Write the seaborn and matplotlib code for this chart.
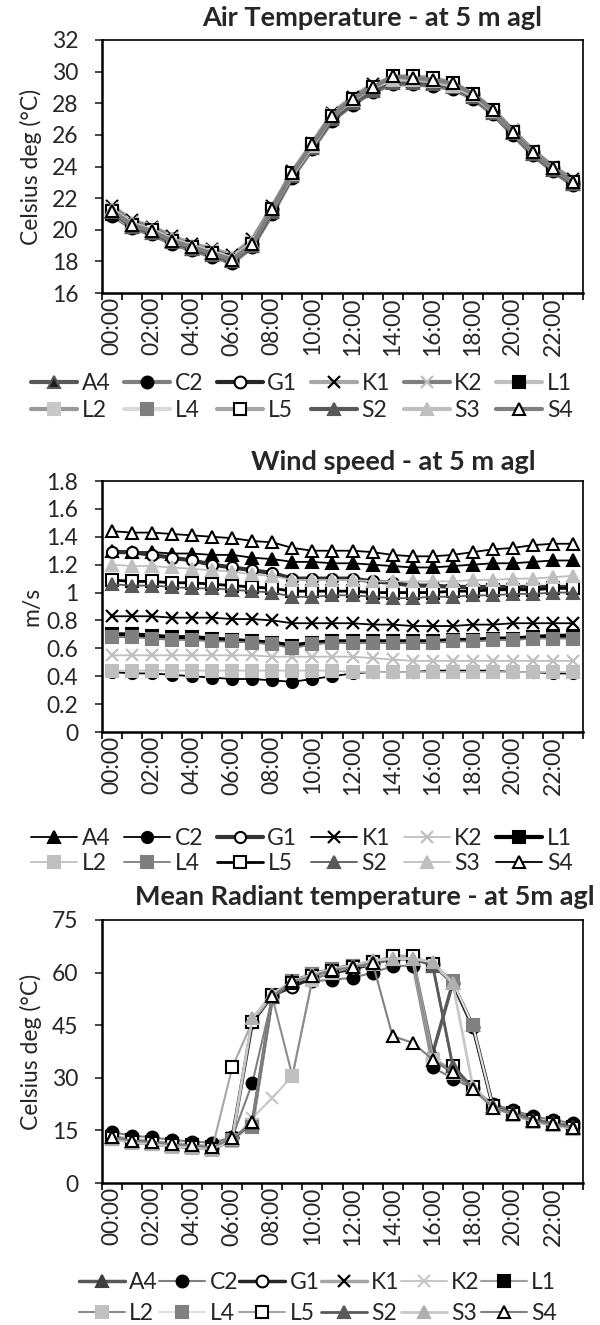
import numpy as np
import pandas as pd
import seaborn as sns
import matplotlib
matplotlib.use("Agg")
import matplotlib.pyplot as plt

# ---- datos ----
horas = ["00:00", "01:00", "02:00", "03:00", "04:00", "05:00", "06:00", "07:00",
         "08:00", "09:00", "10:00", "11:00", "12:00", "13:00", "14:00", "15:00",
         "16:00", "17:00", "18:00", "19:00", "20:00", "21:00", "22:00", "23:00"]
estaciones = ["A4", "C2", "G1", "K1", "K2", "L1", "L2", "L4", "L5", "S2", "S3", "S4"]

# temperatura del aire (C)
ta_A4 = [21.1, 20.2, 19.9, 19.3, 18.8, 18.5, 18.0, 19.0, 21.2, 23.5, 25.3, 27.1, 28.1, 28.9, 29.4, 29.4, 29.3, 29.1, 28.5, 27.5, 26.1, 24.8, 23.8, 22.9]
ta_C2 = [20.9, 20.1, 19.7, 19.1, 18.7, 18.3, 17.9, 18.9, 21.0, 23.3, 25.1, 26.9, 27.9, 28.7, 29.2, 29.2, 29.1, 28.9, 28.3, 27.3, 26.0, 24.7, 23.7, 22.8]
ta_G1 = [21.2, 20.3, 20.0, 19.4, 18.9, 18.5, 18.1, 19.1, 21.3, 23.6, 25.4, 27.2, 28.2, 29.0, 29.6, 29.6, 29.5, 29.2, 28.6, 27.5, 26.2, 24.9, 23.9, 23.0]
ta_K1 = [21.5, 20.6, 20.2, 19.6, 19.1, 18.8, 18.4, 19.4, 21.5, 23.7, 25.5, 27.4, 28.4, 29.2, 29.6, 29.6, 29.5, 29.2, 28.6, 27.6, 26.3, 25.0, 24.0, 23.2]
ta_K2 = [21.4, 20.5, 20.1, 19.5, 19.0, 18.7, 18.3, 19.3, 21.4, 23.6, 25.4, 27.3, 28.3, 29.1, 29.5, 29.5, 29.4, 29.2, 28.6, 27.6, 26.3, 25.0, 24.0, 23.1]
ta_L1 = [21.0, 20.2, 19.8, 19.2, 18.8, 18.4, 18.0, 19.0, 21.1, 23.4, 25.2, 27.0, 28.1, 28.8, 29.4, 29.4, 29.3, 29.0, 28.4, 27.4, 26.1, 24.8, 23.8, 22.9]
ta_L2 = [21.1, 20.3, 19.9, 19.3, 18.8, 18.4, 18.0, 19.0, 21.2, 23.5, 25.3, 27.1, 28.2, 28.9, 29.5, 29.5, 29.4, 29.1, 28.5, 27.5, 26.2, 24.9, 23.9, 23.0]
ta_L4 = [21.2, 20.3, 19.9, 19.3, 18.9, 18.5, 18.1, 19.1, 21.2, 23.5, 25.3, 27.1, 28.2, 28.9, 29.5, 29.5, 29.4, 29.1, 28.5, 27.5, 26.2, 24.9, 23.9, 23.0]
ta_L5 = [21.2, 20.3, 20.0, 19.3, 18.9, 18.5, 18.1, 19.1, 21.3, 23.6, 25.4, 27.2, 28.3, 29.0, 29.7, 29.7, 29.6, 29.3, 28.6, 27.6, 26.2, 24.9, 23.9, 23.0]
ta_S2 = [21.1, 20.2, 19.8, 19.2, 18.8, 18.4, 18.0, 19.0, 21.1, 23.4, 25.2, 27.0, 28.0, 28.8, 29.3, 29.3, 29.2, 29.0, 28.4, 27.4, 26.1, 24.8, 23.8, 22.9]
ta_S3 = [21.3, 20.4, 20.0, 19.4, 19.0, 18.6, 18.2, 19.2, 21.3, 23.5, 25.3, 27.2, 28.2, 29.0, 29.5, 29.5, 29.4, 29.1, 28.5, 27.5, 26.2, 24.9, 23.9, 23.0]
ta_S4 = [21.2, 20.3, 19.9, 19.3, 18.9, 18.5, 18.1, 19.1, 21.3, 23.6, 25.4, 27.2, 28.3, 29.0, 29.7, 29.6, 29.5, 29.25, 28.6, 27.55, 26.2, 24.9, 23.9, 23.0]

# velocidad del viento (m/s)
ws_A4 = [1.30, 1.29, 1.29, 1.28, 1.28, 1.27, 1.27, 1.25, 1.24, 1.22, 1.22, 1.21, 1.21, 1.20, 1.19, 1.18, 1.18, 1.19, 1.20, 1.21, 1.21, 1.22, 1.23, 1.23]
ws_C2 = [0.43, 0.42, 0.42, 0.41, 0.40, 0.39, 0.38, 0.38, 0.37, 0.36, 0.38, 0.40, 0.42, 0.43, 0.43, 0.43, 0.44, 0.44, 0.44, 0.44, 0.43, 0.43, 0.42, 0.42]
ws_G1 = [1.29, 1.29, 1.27, 1.25, 1.23, 1.20, 1.18, 1.16, 1.14, 1.10, 1.10, 1.10, 1.10, 1.08, 1.07, 1.05, 1.05, 1.04, 1.04, 1.04, 1.04, 1.04, 1.04, 1.04]
ws_K1 = [0.83, 0.83, 0.83, 0.82, 0.82, 0.82, 0.81, 0.81, 0.80, 0.78, 0.78, 0.78, 0.78, 0.77, 0.77, 0.76, 0.76, 0.76, 0.77, 0.77, 0.78, 0.78, 0.78, 0.78]
ws_K2 = [0.55, 0.55, 0.55, 0.55, 0.55, 0.55, 0.55, 0.55, 0.54, 0.54, 0.54, 0.54, 0.54, 0.53, 0.52, 0.51, 0.51, 0.51, 0.51, 0.51, 0.51, 0.51, 0.51, 0.51]
ws_L1 = [0.70, 0.70, 0.69, 0.68, 0.68, 0.67, 0.66, 0.65, 0.64, 0.62, 0.64, 0.65, 0.65, 0.65, 0.65, 0.65, 0.65, 0.66, 0.66, 0.67, 0.67, 0.68, 0.69, 0.69]
ws_L2 = [0.44, 0.44, 0.44, 0.44, 0.44, 0.44, 0.44, 0.44, 0.44, 0.44, 0.44, 0.44, 0.43, 0.43, 0.43, 0.43, 0.43, 0.43, 0.43, 0.43, 0.43, 0.43, 0.43, 0.43]
ws_L4 = [0.68, 0.68, 0.67, 0.66, 0.66, 0.65, 0.65, 0.64, 0.63, 0.60, 0.63, 0.64, 0.64, 0.64, 0.64, 0.64, 0.64, 0.65, 0.65, 0.66, 0.66, 0.67, 0.67, 0.67]
ws_L5 = [1.09, 1.08, 1.08, 1.07, 1.07, 1.06, 1.05, 1.04, 1.03, 1.01, 1.01, 1.01, 1.01, 1.00, 1.00, 1.00, 1.00, 1.01, 1.01, 1.02, 1.02, 1.02, 1.03, 1.03]
ws_S2 = [1.06, 1.05, 1.05, 1.04, 1.03, 1.03, 1.02, 1.01, 1.00, 0.97, 0.97, 0.98, 0.98, 0.97, 0.96, 0.96, 0.97, 0.97, 0.98, 0.98, 0.99, 0.99, 1.00, 1.00]
ws_S3 = [1.20, 1.19, 1.19, 1.18, 1.17, 1.16, 1.15, 1.13, 1.12, 1.09, 1.09, 1.09, 1.09, 1.08, 1.08, 1.08, 1.08, 1.08, 1.09, 1.09, 1.10, 1.10, 1.11, 1.12]
ws_S4 = [1.44, 1.43, 1.43, 1.42, 1.41, 1.40, 1.39, 1.37, 1.36, 1.32, 1.30, 1.30, 1.30, 1.29, 1.27, 1.26, 1.26, 1.27, 1.29, 1.31, 1.32, 1.34, 1.35, 1.35]

# temperatura media radiante (C)
mrt_A4 = [13.0, 12.0, 11.5, 10.8, 10.5, 10.0, 12.5, 17.0, 53.0, 57.5, 59.5, 61.0, 62.0, 63.0, 64.0, 64.0, 37.0, 57.0, 45.0, 22.0, 20.0, 18.0, 17.0, 16.0]
mrt_C2 = [14.5, 13.5, 13.0, 12.3, 11.8, 11.5, 13.0, 28.5, 53.0, 57.0, 57.5, 58.0, 58.5, 60.0, 61.8, 62.0, 33.0, 29.8, 27.0, 22.5, 20.8, 19.0, 18.0, 17.0]
mrt_G1 = [13.0, 12.0, 11.5, 10.8, 10.5, 10.0, 13.0, 45.8, 53.5, 56.0, 58.5, 60.0, 61.0, 62.5, 64.0, 64.0, 62.5, 57.0, 44.5, 22.0, 20.0, 18.0, 17.0, 16.0]
mrt_K1 = [13.3, 12.3, 11.8, 11.2, 10.8, 10.3, 12.8, 16.5, 53.0, 57.5, 59.5, 61.0, 62.0, 63.0, 64.0, 64.0, 35.5, 32.0, 27.0, 22.0, 20.0, 18.0, 17.0, 16.0]
mrt_K2 = [12.5, 11.5, 11.0, 10.3, 10.0, 9.5, 12.0, 18.5, 24.3, 30.5, 58.5, 60.5, 61.5, 62.5, 64.0, 64.0, 35.0, 31.5, 27.0, 21.5, 19.5, 17.5, 16.5, 15.5]
mrt_L1 = [13.2, 12.2, 11.7, 11.0, 10.7, 10.2, 12.5, 16.5, 53.0, 57.5, 59.5, 61.0, 62.0, 63.0, 64.0, 64.0, 62.0, 33.0, 27.0, 22.0, 20.0, 18.0, 17.0, 16.0]
mrt_L2 = [12.5, 11.5, 11.0, 10.3, 10.0, 9.5, 12.0, 16.5, 53.0, 30.5, 58.0, 60.0, 61.5, 62.5, 64.0, 64.0, 35.0, 31.5, 27.0, 21.5, 19.5, 17.5, 16.5, 15.5]
mrt_L4 = [12.6, 11.6, 11.2, 10.5, 10.2, 9.7, 12.3, 16.0, 53.0, 57.5, 59.5, 61.0, 62.0, 63.0, 64.5, 64.5, 62.0, 57.5, 45.0, 22.0, 19.8, 17.8, 16.8, 15.8]
mrt_L5 = [12.8, 11.8, 11.3, 10.7, 10.3, 9.8, 33.0, 46.0, 53.5, 57.0, 59.0, 60.5, 61.5, 63.0, 64.8, 64.8, 62.5, 33.5, 27.5, 22.0, 19.8, 17.8, 16.8, 15.8]
mrt_S2 = [13.0, 12.0, 11.5, 10.8, 10.5, 10.0, 12.5, 17.0, 53.0, 57.5, 59.5, 61.0, 62.0, 63.0, 64.0, 64.0, 62.0, 33.5, 27.0, 22.0, 20.0, 18.0, 17.0, 16.0]
mrt_S3 = [12.6, 11.6, 11.2, 10.5, 10.2, 9.7, 12.5, 47.0, 54.0, 57.5, 59.5, 61.0, 62.0, 63.5, 64.0, 64.0, 63.0, 57.0, 27.5, 21.5, 19.5, 17.5, 16.5, 15.5]
mrt_S4 = [13.0, 12.0, 11.7, 11.0, 10.7, 10.2, 12.7, 17.3, 53.3, 57.5, 59.0, 60.8, 61.5, 62.8, 41.9, 40.0, 35.2, 31.6, 26.9, 21.5, 19.6, 17.7, 16.7, 15.8]

temp_aire = [ta_A4, ta_C2, ta_G1, ta_K1, ta_K2, ta_L1, ta_L2, ta_L4, ta_L5, ta_S2, ta_S3, ta_S4]
viento = [ws_A4, ws_C2, ws_G1, ws_K1, ws_K2, ws_L1, ws_L2, ws_L4, ws_L5, ws_S2, ws_S3, ws_S4]
radiante = [mrt_A4, mrt_C2, mrt_G1, mrt_K1, mrt_K2, mrt_L1, mrt_L2, mrt_L4, mrt_L5, mrt_S2, mrt_S3, mrt_S4]

# ---- estilos (linea, grosor, marcador, relleno, borde) ----
estilo_ta = [
    ("#595959", 3.0, "^", "#1a1a1a", "#595959"),
    ("#7f7f7f", 3.0, "o", "black", "black"),
    ("#262626", 3.0, "o", "white", "black"),
    ("#a6a6a6", 3.0, "x", "black", "black"),
    ("#7f7f7f", 3.0, "x", "#bfbfbf", "#bfbfbf"),
    ("#bfbfbf", 3.0, "s", "black", "black"),
    ("#999999", 3.0, "s", "#c8c8c8", "#c8c8c8"),
    ("#d9d9d9", 3.0, "s", "#7f7f7f", "#7f7f7f"),
    ("#a6a6a6", 3.0, "s", "white", "black"),
    ("#595959", 3.0, "^", "#595959", "#595959"),
    ("#bfbfbf", 3.0, "^", "#bfbfbf", "#bfbfbf"),
    ("#7f7f7f", 3.0, "^", "white", "black"),
]
estilo_ws = [
    ("black", 1.3, "^", "black", "black"),
    ("black", 1.3, "o", "black", "black"),
    ("#333333", 3.0, "o", "white", "black"),
    ("black", 1.3, "x", "black", "black"),
    ("#bfbfbf", 1.3, "x", "#bfbfbf", "#bfbfbf"),
    ("black", 3.0, "s", "black", "black"),
    ("#bfbfbf", 1.3, "s", "#bfbfbf", "#bfbfbf"),
    ("#7f7f7f", 1.3, "s", "#7f7f7f", "#7f7f7f"),
    ("black", 2.0, "s", "white", "black"),
    ("#595959", 1.3, "^", "#595959", "#595959"),
    ("#bfbfbf", 1.3, "^", "#bfbfbf", "#bfbfbf"),
    ("black", 1.3, "^", "white", "black"),
]
estilo_mrt = [
    ("#595959", 2.5, "^", "#404040", "#404040"),
    ("#808080", 1.5, "o", "black", "black"),
    ("#262626", 2.5, "o", "white", "black"),
    ("#a6a6a6", 2.5, "x", "black", "black"),
    ("#c8c8c8", 1.5, "x", "#c8c8c8", "#c8c8c8"),
    ("#a0a0a0", 1.5, "s", "black", "black"),
    ("#8c8c8c", 1.5, "s", "#c0c0c0", "#c0c0c0"),
    ("#e0e0e0", 1.5, "s", "#808080", "#808080"),
    ("#a6a6a6", 1.5, "s", "white", "black"),
    ("#595959", 2.0, "^", "#595959", "#595959"),
    ("#c8c8c8", 2.0, "^", "#b0b0b0", "#b0b0b0"),
    ("#808080", 1.5, "^", "white", "black"),
]

sns.set_theme(style="white")
plt.rcParams["font.family"] = ["Lato", "DejaVu Sans"]
plt.rcParams["axes.unicode_minus"] = False

W, H = 600, 1325
fig = plt.figure(figsize=(W / 100, H / 100), dpi=100)

FS_TICK = 16.5
FS_LEG = 16.5
FS_TIT = 19.5


def px_axes(left, top, right, bottom):
    return fig.add_axes([left / W, 1 - bottom / H, (right - left) / W, (bottom - top) / H])


def dibujar(ax, series, estilos, ylim, yticks, ylabel, ms):
    x = np.arange(len(horas))
    for nombre, vals, (lc, lw, mk, mfc, mec) in zip(estaciones, series, estilos):
        sns.lineplot(x=x, y=vals, ax=ax, color=lc, linewidth=lw, marker=mk,
                     markersize=ms, markerfacecolor=mfc, markeredgecolor=mec,
                     markeredgewidth=1.5 if mk != "x" else 1.6, label=nombre,
                     errorbar=None, clip_on=False)
    ax.set_xlim(-0.5, len(horas) - 0.5)
    ax.set_ylim(*ylim)
    ax.set_yticks(yticks)
    ax.set_yticklabels([f"{v:g}" for v in yticks])
    ax.set_xticks(np.arange(-0.5, len(horas), 1))
    ax.set_xticklabels([])
    ax.set_xticks(np.arange(0, len(horas), 2), minor=True)
    ax.set_xticklabels(horas[::2], minor=True, rotation=90)
    ax.tick_params(axis="x", which="major", length=5, width=1.2, direction="out", colors="black")
    ax.tick_params(axis="x", which="minor", length=0, pad=3, labelsize=FS_TICK)
    ax.tick_params(axis="y", length=5, width=1.2, direction="out", labelsize=FS_TICK, pad=12)
    ax.xaxis.set_ticks_position("bottom")
    ax.yaxis.set_ticks_position("left")
    for s in ax.spines.values():
        s.set_color("black")
        s.set_linewidth(1.2)
    ax.spines["left"].set_linewidth(1.8)
    ax.spines["bottom"].set_linewidth(1.8)
    ax.set_xlabel("")
    ax.set_ylabel(ylabel, fontsize=FS_LEG)
    ax.yaxis.set_label_coords(-0.125, 0.5)
    ax.grid(False)


def leyenda(ax, cx, cy, colspacing, labsp):
    handles, labels = ax.get_legend_handles_labels()
    # orden por filas (como en Excel)
    orden = [0, 6, 1, 7, 2, 8, 3, 9, 4, 10, 5, 11]
    ax.legend([handles[i] for i in orden], [labels[i] for i in orden], ncol=6, loc="center",
              bbox_to_anchor=(cx / W, 1 - cy / H), bbox_transform=fig.transFigure,
              frameon=False, fontsize=FS_LEG, handlelength=2.0, handletextpad=0.2,
              columnspacing=colspacing, labelspacing=labsp, borderpad=0, borderaxespad=0)


ax1 = px_axes(102, 40, 583, 293)
dibujar(ax1, temp_aire, estilo_ta, (16, 32), np.arange(16, 33, 2), "Celsius deg (°C)", 8.5)
leyenda(ax1, 302, 397, 0.6, 0.25)
fig.text(372 / W, 1 - 18 / H, "Air Temperature - at 5 m agl", ha="center", va="center",
         fontsize=FS_TIT, fontweight="bold")

ax2 = px_axes(102, 481, 583, 732)
dibujar(ax2, viento, estilo_ws, (0, 1.8), np.round(np.arange(0, 1.81, 0.2), 1), "m/s", 8)
leyenda(ax2, 302, 851, 0.6, 0.2)
fig.text(393 / W, 1 - 462 / H, "Wind speed - at 5 m agl", ha="center", va="center",
         fontsize=FS_TIT, fontweight="bold")

ax3 = px_axes(102, 920, 583, 1183)
dibujar(ax3, radiante, estilo_mrt, (0, 75), np.arange(0, 76, 15), "Celsius deg (°C)", 8.5)
leyenda(ax3, 318, 1298, 0.05, 0.45)
fig.text(365 / W, 1 - 897 / H, "Mean Radiant temperature - at 5m agl", ha="center", va="center",
         fontsize=FS_TIT, fontweight="bold")

fig.savefig("out.png", dpi=100)
plt.close(fig)
